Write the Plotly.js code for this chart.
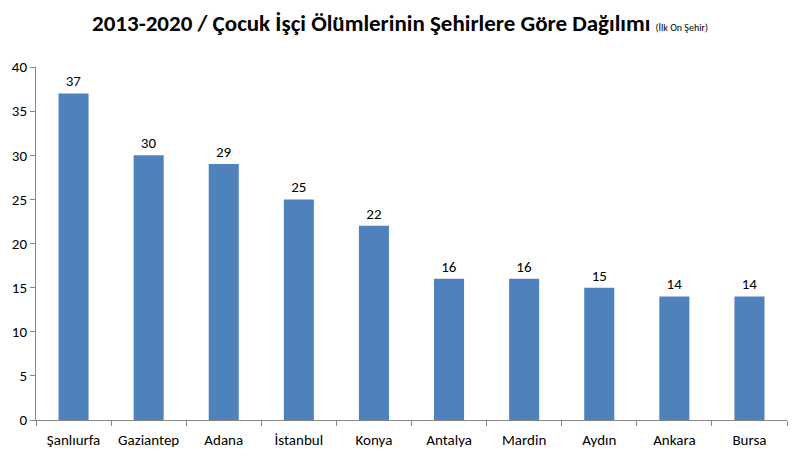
<!DOCTYPE html>
<html><head><meta charset="utf-8">
<script src="https://cdn.plot.ly/plotly-3.0.1.min.js"></script>
<style>html,body{margin:0;padding:0;background:#fff}#c{width:800px;height:463px}</style>
</head><body><div id="c"></div>
<script>
const cities = ["Şanlıurfa","Gaziantep","Adana","İstanbul","Konya","Antalya","Mardin","Aydın","Ankara","Bursa"];
const deaths = [37,30,29,25,22,16,16,15,14,14];
const yTicks = [0,5,10,15,20,25,30,35,40];

const F = "Carlito, Lato, sans-serif";
Plotly.newPlot("c", [{
  type: "bar",
  x: cities,
  y: deaths,
  text: deaths.map(String),
  textposition: "outside",
  cliponaxis: false,
  textfont: {family: F, size: 15, color: "#000"},
  marker: {color: "#4F81BD", line: {width: 0}},
  hoverinfo: "none"
}], {
  width: 800, height: 463,
  margin: {l: 36, r: 13, t: 67, b: 43},
  paper_bgcolor: "#fff", plot_bgcolor: "#fff",
  bargap: 0.6,
  showlegend: false,
  title: {
    text: "<b>2013-2020 / Çocuk İşçi Ölümlerinin Şehirlere Göre Dağılımı</b> <span style='font-size:10px'>(İlk On Şehir)</span>",
    font: {family: F, size: 23, color: "#000"},
    x: 0.5, xanchor: "center", y: 0.95, yanchor: "middle"
  },
  xaxis: {
    showline: true, linecolor: "#868686", linewidth: 1,
    ticks: "outside", tickson: "boundaries", ticklen: 5, tickcolor: "#868686",
    tickangle: 0, ticklabelstandoff: 6,
    tickfont: {family: F, size: 15, color: "#000"},
    showgrid: false, zeroline: false, fixedrange: true
  },
  yaxis: {
    range: [0, 40], tickvals: yTicks, ticktext: yTicks.map(String),
    showline: true, linecolor: "#868686", linewidth: 1,
    ticks: "outside", ticklen: 5, tickcolor: "#868686",
    tickfont: {family: F, size: 15, color: "#000"},
    showgrid: false, zeroline: false, fixedrange: true
  }
}, {staticPlot: true});
</script></body></html>
